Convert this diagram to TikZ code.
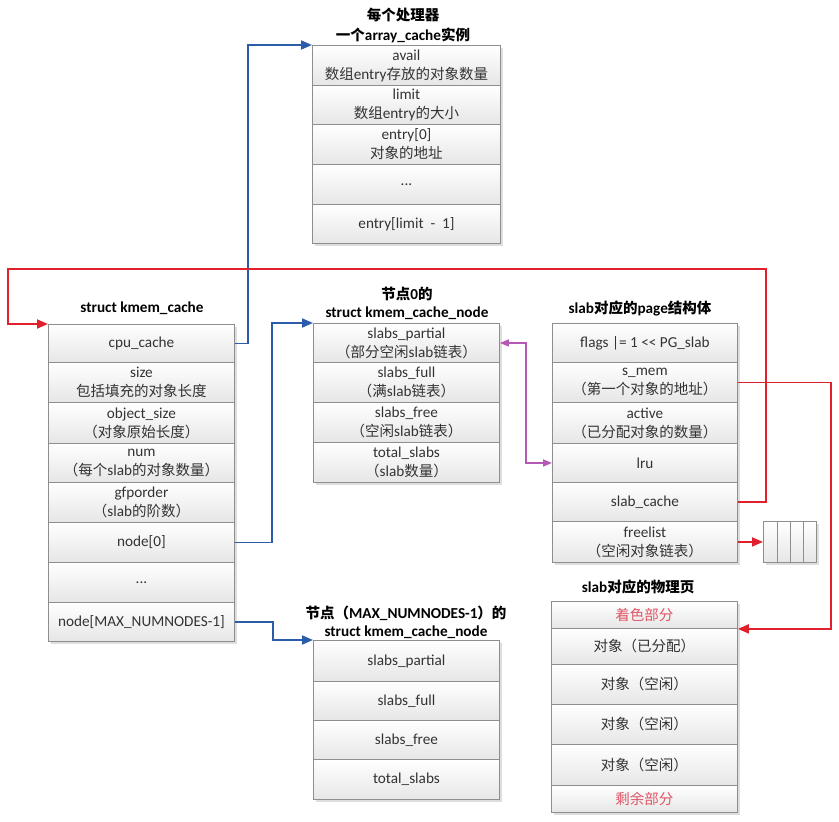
\documentclass[tikz,border=0pt]{standalone}
\usepackage{fontspec}
\setmainfont{Carlito}[Scale=1.05]
\newfontfamily\cjk{Noto Sans CJK SC}
\newcommand\zh[1]{{\cjk #1}}
\usetikzlibrary{arrows.meta}
\definecolor{cellborder}{HTML}{8E8E8E}
\definecolor{cellbot}{HTML}{E6E6E6}
\definecolor{textgray}{HTML}{333333}
\definecolor{lblue}{HTML}{2A5CAA}
\definecolor{lred}{HTML}{E0202C}
\definecolor{lpink}{HTML}{B45AB4}
\definecolor{tred}{HTML}{E05565}
\newcommand\rowbox[6]{\node[cellbox, minimum width=#4pt, minimum height=#5pt] (#1) at (#2,#3) {#6};}
\newcommand\shadowbox[4]{\fill[black!13] (#1+2.5,#2+2.5) rectangle (#3+2.5,#4+2.5);}
\begin{document}
\begin{tikzpicture}[x=1pt,y=-1pt,
  cellbox/.style={draw=cellborder, line width=0.9pt, top color=white, bottom color=cellbot,
    inner sep=0pt, anchor=north west, align=center, text=textgray,
    font=\fontsize{14.5}{19}\selectfont},
  ttl/.style={inner sep=0pt, font=\fontsize{14.5}{17}\selectfont\bfseries, text=black},
  bluearrow/.style={draw=lblue, line width=1.8pt, -{Triangle[length=11pt,width=9pt]}},
  redarrow/.style={draw=lred, line width=1.8pt, -{Triangle[length=11pt,width=9pt]}},
  pinkarrow/.style={draw=lpink, line width=1.4pt, {Triangle[length=9pt,width=7pt]}-{Triangle[length=9pt,width=7pt]}}
]
\useasboundingbox (0,0) rectangle (839,822);
\fill[white] (0,0) rectangle (839,822);

% ---------- array_cache ----------
\node[ttl] (act1) at (403,15) {\zh{每个处理器}};
\node[ttl] (act2) at (403,35) {\zh{一个}array\_cache\zh{实例}};
\shadowbox{312}{45}{500}{243}
\rowbox{ac1}{312}{45}{188}{40}{avail\\\zh{数组}entry\zh{存放的对象数量}}
\rowbox{ac2}{312}{85}{188}{39}{limit\\\zh{数组}entry\zh{的大小}}
\rowbox{ac3}{312}{124}{188}{40}{entry[0]\\\zh{对象的地址}}
\rowbox{ac4}{312}{164}{188}{40}{...}
\rowbox{ac5}{312}{204}{188}{39}{entry[limit \ -\ \ 1]}

% ---------- kmem_cache ----------
\node[ttl] (kct) at (142,308) {struct kmem\_cache};
\shadowbox{48}{324}{234}{641}
\rowbox{kc1}{48}{324}{186}{38}{cpu\_cache}
\rowbox{kc2}{48}{362}{186}{40}{size\\\zh{包括填充的对象长度}}
\rowbox{kc3}{48}{402}{186}{41}{object\_size\\\zh{（对象原始长度）}}
\rowbox{kc4}{48}{443}{186}{39}{num\\\zh{（每个}slab\zh{的对象数量）}}
\rowbox{kc5}{48}{482}{186}{40}{gfporder\\\zh{（}slab\zh{的阶数）}}
\rowbox{kc6}{48}{522}{186}{40}{node[0]}
\rowbox{kc7}{48}{562}{186}{40}{...}
\rowbox{kc8}{48}{602}{186}{39}{node[MAX\_NUMNODES-1]}

% ---------- node 0 ----------
\node[ttl] (nat1) at (407,294) {\zh{节点}0\zh{的}};
\node[ttl] (nat2) at (407,313) {struct kmem\_cache\_node};
\shadowbox{313}{323}{499}{482}
\rowbox{na1}{313}{323}{186}{39}{slabs\_partial\\\zh{（部分空闲}slab\zh{链表）}}
\rowbox{na2}{313}{362}{186}{40}{slabs\_full\\\zh{（满}slab\zh{链表）}}
\rowbox{na3}{313}{402}{186}{40}{slabs\_free\\\zh{（空闲}slab\zh{链表）}}
\rowbox{na4}{313}{442}{186}{40}{total\_slabs\\\zh{（}slab\zh{数量）}}

% ---------- node MAX ----------
\node[ttl] (nbt1) at (406,613) {\zh{节点（}MAX\_NUMNODES-1\zh{）的}};
\node[ttl] (nbt2) at (406,632) {struct kmem\_cache\_node};
\shadowbox{313}{640}{499}{799}
\rowbox{nb1}{313}{640}{186}{41}{slabs\_partial}
\rowbox{nb2}{313}{681}{186}{39}{slabs\_full}
\rowbox{nb3}{313}{720}{186}{39}{slabs\_free}
\rowbox{nb4}{313}{759}{186}{40}{total\_slabs}

% ---------- page ----------
\node[ttl] (pgt) at (640,308) {slab\zh{对应的}page\zh{结构体}};
\shadowbox{552}{323}{737}{562}
\rowbox{pg1}{552}{323}{185}{39}{flags |= 1 <{}< PG\_slab}
\rowbox{pg2}{552}{362}{185}{40}{s\_mem\\\zh{（第一个对象的地址）}}
\rowbox{pg3}{552}{402}{185}{41}{active\\\zh{（已分配对象的数量）}}
\rowbox{pg4}{552}{443}{185}{39}{lru}
\rowbox{pg5}{552}{482}{185}{39}{slab\_cache}
\rowbox{pg6}{552}{521}{185}{41}{freelist\\\zh{（空闲对象链表）}}

% ---------- freelist objects ----------
\shadowbox{763}{521}{816}{562}
\rowbox{fl1}{763}{521}{14}{41}{}
\rowbox{fl2}{777}{521}{13}{41}{}
\rowbox{fl3}{790}{521}{13}{41}{}
\rowbox{fl4}{803}{521}{13}{41}{}

% ---------- physical page ----------
\node[ttl] (pht) at (638,587) {slab\zh{对应的物理页}};
\shadowbox{551}{601}{737}{812}
\rowbox{ph1}{551}{601}{186}{27}{\textcolor{tred}{\zh{着色部分}}}
\rowbox{ph2}{551}{628}{186}{36}{\zh{对象（已分配）}}
\rowbox{ph3}{551}{664}{186}{40}{\zh{对象（空闲）}}
\rowbox{ph4}{551}{704}{186}{40}{\zh{对象（空闲）}}
\rowbox{ph5}{551}{744}{186}{41}{\zh{对象（空闲）}}
\rowbox{ph6}{551}{785}{186}{27}{\textcolor{tred}{\zh{剩余部分}}}

% ---------- connectors ----------
\draw[bluearrow] (kc1.east) -- ++(13,0) |- (ac1.north west);
\draw[bluearrow] (kc6.east) -- ++(37,0) |- (na1.north west);
\draw[bluearrow] (kc8.east) -- ++(38,0) |- (nb1.north west);
\draw[redarrow] (pg5.east) -- ++(28,0) |- (8,269) |- (kc1.north west);
\draw[redarrow] (pg2.east) -- ++(93,0) |- (ph1.south east);
\draw[redarrow] (pg6.east) -- (fl1.west);
\draw[pinkarrow] (na1.east) -- ++(26,0) |- (pg4.west);
\end{tikzpicture}
\end{document}
